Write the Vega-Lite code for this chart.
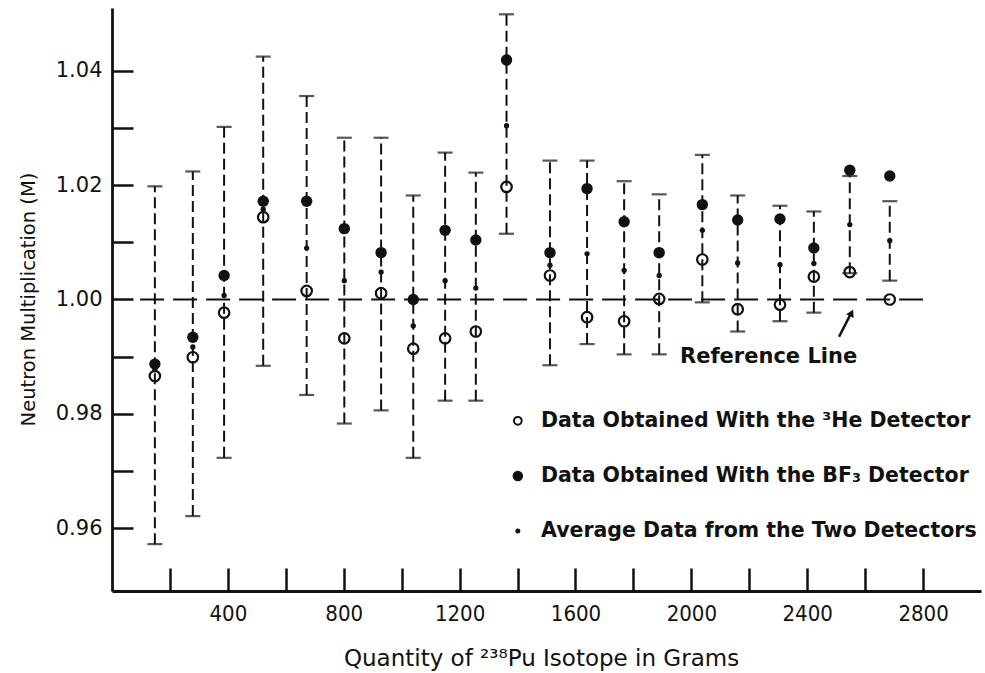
{
  "$schema": "https://vega.github.io/schema/vega-lite/v6.json",
  "width": 869,
  "height": 583,
  "autosize": {"type": "none"},
  "padding": {"left": 112, "top": 8, "right": 4, "bottom": 82},
  "background": "white",
  "config": {
    "view": {"stroke": null},
    "axis": {"grid": false, "domainColor": "#111", "domainWidth": 2.8, "tickColor": "#111", "tickWidth": 2.5, "labelColor": "#111", "titleColor": "#111"}
  },
  "datasets": {
    "pts": [
      {"m": 148, "he": 0.9866, "bf3": 0.9887, "avg": 0.9877, "lo": 0.9572, "hi": 1.0198},
      {"m": 279, "he": 0.9899, "bf3": 0.9934, "avg": 0.9917, "lo": 0.9621, "hi": 1.0224},
      {"m": 387, "he": 0.9977, "bf3": 1.0042, "avg": 1.0007, "lo": 0.9723, "hi": 1.0302},
      {"m": 522, "he": 1.0144, "bf3": 1.0172, "avg": 1.0158, "lo": 0.9884, "hi": 1.0425},
      {"m": 672, "he": 1.0015, "bf3": 1.0172, "avg": 1.0090, "lo": 0.9833, "hi": 1.0356},
      {"m": 802, "he": 0.9932, "bf3": 1.0124, "avg": 1.0033, "lo": 0.9783, "hi": 1.0283},
      {"m": 929, "he": 1.0011, "bf3": 1.0082, "avg": 1.0048, "lo": 0.9806, "hi": 1.0283},
      {"m": 1040, "he": 0.9914, "bf3": 1.0000, "avg": 0.9954, "lo": 0.9723, "hi": 1.0182},
      {"m": 1150, "he": 0.9932, "bf3": 1.0121, "avg": 1.0033, "lo": 0.9823, "hi": 1.0257},
      {"m": 1256, "he": 0.9944, "bf3": 1.0104, "avg": 1.0020, "lo": 0.9823, "hi": 1.0222},
      {"m": 1362, "he": 1.0197, "bf3": 1.0419, "avg": 1.0304, "lo": 1.0115, "hi": 1.0499},
      {"m": 1512, "he": 1.0042, "bf3": 1.0082, "avg": 1.0060, "lo": 0.9885, "hi": 1.0243},
      {"m": 1640, "he": 0.9969, "bf3": 1.0194, "avg": 1.0080, "lo": 0.9922, "hi": 1.0243},
      {"m": 1768, "he": 0.9962, "bf3": 1.0136, "avg": 1.0051, "lo": 0.9904, "hi": 1.0207},
      {"m": 1889, "he": 1.0001, "bf3": 1.0082, "avg": 1.0042, "lo": 0.9904, "hi": 1.0184},
      {"m": 2038, "he": 1.0070, "bf3": 1.0166, "avg": 1.0121, "lo": 0.9995, "hi": 1.0253},
      {"m": 2160, "he": 0.9983, "bf3": 1.0139, "avg": 1.0064, "lo": 0.9944, "hi": 1.0182},
      {"m": 2306, "he": 0.9991, "bf3": 1.0141, "avg": 1.0061, "lo": 0.9962, "hi": 1.0164},
      {"m": 2423, "he": 1.0040, "bf3": 1.0090, "avg": 1.0063, "lo": 0.9977, "hi": 1.0154},
      {"m": 2547, "he": 1.0048, "bf3": 1.0226, "avg": 1.0131, "lo": 1.0046, "hi": 1.0216},
      {"m": 2685, "he": 1.0000, "bf3": 1.0216, "avg": 1.0103, "lo": 1.0033, "hi": 1.0172}
    ],
    "legend": [
      {"x": 1401, "tx": 1481, "y": 0.97878, "kind": "he", "label": "Data Obtained With the ³He Detector"},
      {"x": 1401, "tx": 1481, "y": 0.96913, "kind": "bf3", "label": "Data Obtained With the BF₃ Detector"},
      {"x": 1401, "tx": 1481, "y": 0.9595, "kind": "avg", "label": "Average Data from the Two Detectors"}
    ]
  },
  "layer": [
    {
      "data": {"name": "pts"},
      "mark": {"type": "rule", "strokeDash": [11, 5], "strokeWidth": 2, "color": "#111"},
      "encoding": {
        "x": {"field": "m", "type": "quantitative", "scale": {"domain": [0, 3000], "nice": false},
          "axis": {"title": "Quantity of ²³⁸Pu Isotope in Grams", "values": [200, 400, 600, 800, 1000, 1200, 1400, 1600, 1800, 2000, 2200, 2400, 2600, 2800],
            "labelExpr": "datum.value % 400 == 0 ? datum.value : ''", "tickSize": -23, "labelPadding": 35, "labelBaseline": "top",
            "labelFont": "DejaVu Sans Condensed", "labelFontSize": 22, "labelFontWeight": "normal",
            "titleFont": "DejaVu Sans", "titleFontSize": 23, "titleFontWeight": "normal", "titleX": 429, "titleY": 67, "titleBaseline": "middle", "labelFlush": false}},
        "y": {"field": "lo", "type": "quantitative", "scale": {"domain": [0.949, 1.051], "nice": false, "zero": false},
          "axis": {"title": "Neutron Multiplication (M)", "values": [0.96, 0.97, 0.98, 0.99, 1.0, 1.01, 1.02, 1.03, 1.04],
            "labelExpr": "round(datum.value * 100) % 2 == 0 ? format(datum.value, '.2f') : ''", "tickSize": -21, "labelPadding": 31,
            "labelFont": "DejaVu Sans", "labelFontSize": 21, "labelFlush": false,
            "titleFont": "DejaVu Sans", "titleFontSize": 19.5, "titleFontWeight": "normal", "titleX": -84, "titleY": 291, "titleBaseline": "middle", "titleAngle": 270}},
        "y2": {"field": "hi"}
      }
    },
    {
      "data": {"values": [{"x1": 97, "x2": 2800, "y": 1.0}]},
      "mark": {"type": "rule", "strokeDash": [24, 9], "strokeWidth": 2, "color": "#111"},
      "encoding": {
        "x": {"field": "x1", "type": "quantitative"},
        "x2": {"field": "x2"},
        "y": {"field": "y", "type": "quantitative"}
      }
    },
    {
      "data": {"name": "pts"},
      "mark": {"type": "tick", "orient": "horizontal", "size": 15, "thickness": 2.2, "color": "#111"},
      "encoding": {
        "x": {"field": "m", "type": "quantitative"},
        "y": {"field": "hi", "type": "quantitative"}
      }
    },
    {
      "data": {"name": "pts"},
      "mark": {"type": "tick", "orient": "horizontal", "size": 15, "thickness": 2.2, "color": "#111"},
      "encoding": {
        "x": {"field": "m", "type": "quantitative"},
        "y": {"field": "lo", "type": "quantitative"}
      }
    },
    {
      "data": {"name": "pts"},
      "mark": {"type": "point", "shape": "circle", "filled": false, "size": 110, "strokeWidth": 2.2, "color": "#111", "opacity": 1},
      "encoding": {
        "x": {"field": "m", "type": "quantitative"},
        "y": {"field": "he", "type": "quantitative"}
      }
    },
    {
      "data": {"name": "pts"},
      "mark": {"type": "point", "shape": "circle", "filled": true, "size": 130, "color": "#111", "opacity": 1},
      "encoding": {
        "x": {"field": "m", "type": "quantitative"},
        "y": {"field": "bf3", "type": "quantitative"}
      }
    },
    {
      "data": {"name": "pts"},
      "mark": {"type": "point", "shape": "circle", "filled": true, "size": 28, "color": "#111", "opacity": 1},
      "encoding": {
        "x": {"field": "m", "type": "quantitative"},
        "y": {"field": "avg", "type": "quantitative"}
      }
    },
    {
      "data": {"name": "legend"},
      "transform": [{"filter": "datum.kind == 'he'"}],
      "mark": {"type": "point", "shape": "circle", "filled": false, "size": 60, "strokeWidth": 2, "color": "#111", "opacity": 1},
      "encoding": {
        "x": {"field": "x", "type": "quantitative"},
        "y": {"field": "y", "type": "quantitative"}
      }
    },
    {
      "data": {"name": "legend"},
      "transform": [{"filter": "datum.kind == 'bf3'"}],
      "mark": {"type": "point", "shape": "circle", "filled": true, "size": 110, "color": "#111", "opacity": 1},
      "encoding": {
        "x": {"field": "x", "type": "quantitative"},
        "y": {"field": "y", "type": "quantitative"}
      }
    },
    {
      "data": {"name": "legend"},
      "transform": [{"filter": "datum.kind == 'avg'"}],
      "mark": {"type": "point", "shape": "circle", "filled": true, "size": 25, "color": "#111", "opacity": 1},
      "encoding": {
        "x": {"field": "x", "type": "quantitative"},
        "y": {"field": "y", "type": "quantitative"}
      }
    },
    {
      "data": {"name": "legend"},
      "mark": {"type": "text", "align": "left", "baseline": "middle", "font": "DejaVu Sans", "fontSize": 20.5, "fontWeight": "bold", "color": "#111"},
      "encoding": {
        "x": {"field": "tx", "type": "quantitative"},
        "y": {"field": "y", "type": "quantitative"},
        "text": {"field": "label"}
      }
    },
    {
      "data": {"values": [{"x": 1961, "y": 0.98994, "label": "Reference Line"}]},
      "mark": {"type": "text", "align": "left", "baseline": "middle", "font": "DejaVu Sans", "fontSize": 21, "fontWeight": "bold", "color": "#111"},
      "encoding": {
        "x": {"field": "x", "type": "quantitative"},
        "y": {"field": "y", "type": "quantitative"},
        "text": {"field": "label"}
      }
    },
    {
      "data": {"values": [{"x1": 2510, "y1": 0.99349, "x2": 2553, "y2": 0.99775}]},
      "mark": {"type": "rule", "strokeWidth": 2.5, "color": "#111"},
      "encoding": {
        "x": {"field": "x1", "type": "quantitative"},
        "y": {"field": "y1", "type": "quantitative"},
        "x2": {"field": "x2"},
        "y2": {"field": "y2"}
      }
    },
    {
      "data": {"values": [{"x": 2553, "y": 0.99765}]},
      "mark": {"type": "point", "shape": "triangle-up", "filled": true, "size": 70, "angle": 27, "color": "#111", "opacity": 1},
      "encoding": {
        "x": {"field": "x", "type": "quantitative"},
        "y": {"field": "y", "type": "quantitative"}
      }
    }
  ]
}
